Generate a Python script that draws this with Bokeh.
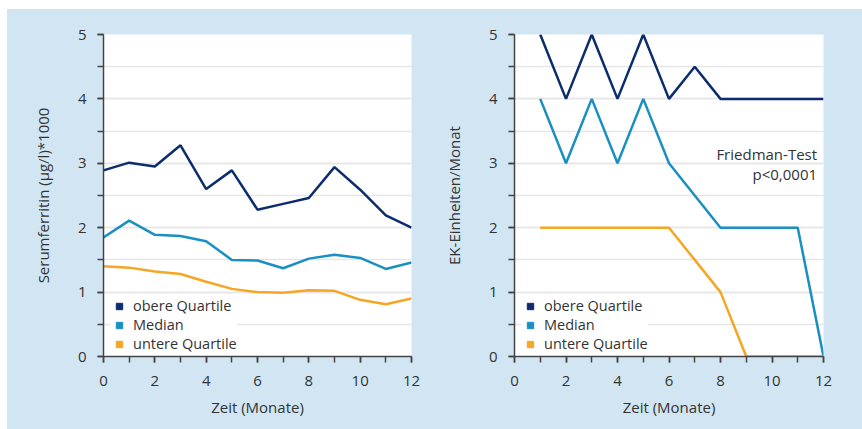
from bokeh.plotting import figure
from bokeh.models import (SingleIntervalTicker, Legend, LegendItem, Label, Row)
from bokeh.embed import file_html
from bokeh.resources import INLINE

# ---- data ----
months_left = [0, 1, 2, 3, 4, 5, 6, 7, 8, 9, 10, 11, 12]
ferritin_upper = [2.89, 3.01, 2.95, 3.28, 2.60, 2.89, 2.28, 2.37, 2.46, 2.94, 2.59, 2.19, 2.00]
ferritin_median = [1.85, 2.11, 1.89, 1.87, 1.79, 1.50, 1.49, 1.37, 1.52, 1.58, 1.53, 1.36, 1.46]
ferritin_lower = [1.40, 1.38, 1.32, 1.28, 1.16, 1.05, 1.00, 0.99, 1.03, 1.02, 0.88, 0.81, 0.90]

months_right = [1, 2, 3, 4, 5, 6, 7, 8, 9, 10, 11, 12]
ek_upper = [5, 4, 5, 4, 5, 4, 4.5, 4, 4, 4, 4, 4]
ek_median = [4, 3, 4, 3, 4, 3, 2.5, 2, 2, 2, 2, 0]
ek_lower = [2, 2, 2, 2, 2, 2, 1.5, 1, 0, 0, 0, 0]

series_labels = ["obere Quartile", "Median", "untere Quartile"]
series_colors = ["#0c2c6e", "#1a8fc2", "#f5a623"]

BG = "#d1e6f2"
TXT = "#333333"
FONT = "Open Sans"
NAN = float("nan")


def make_panel(xs, ys_list, ylabel, left_border, right_border, frame_w):
    p = figure(output_backend="svg", toolbar_location=None,
               x_range=(0, 12), y_range=(0, 5),
               frame_width=frame_w, frame_height=322,
               width=left_border + frame_w + right_border, height=420,
               min_border_left=left_border, min_border_right=right_border,
               min_border_top=25, min_border_bottom=73)
    p.border_fill_color = BG
    p.background_fill_color = "white"
    p.outline_line_color = None

    for ys, c in zip(ys_list, series_colors):
        p.line(xs, ys, line_color=c, line_width=2.5)

    p.xaxis.ticker = SingleIntervalTicker(interval=2, num_minor_ticks=2)
    p.yaxis.ticker = SingleIntervalTicker(interval=1, num_minor_ticks=2)
    for ax in (p.xaxis[0], p.yaxis[0]):
        ax.axis_line_color = "#444444"
        ax.axis_line_width = 1.5
        ax.major_tick_line_color = "#444444"
        ax.minor_tick_line_color = "#444444"
        ax.major_tick_line_width = 1.5
        ax.minor_tick_line_width = 1.5
        ax.major_tick_in = 0
        ax.major_tick_out = 6
        ax.minor_tick_in = 0
        ax.minor_tick_out = 6
        ax.major_label_text_font = FONT
        ax.major_label_text_font_size = "15px"
        ax.major_label_text_color = TXT
        ax.axis_label_text_font = FONT
        ax.axis_label_text_font_size = "15px"
        ax.axis_label_text_font_style = "normal"
        ax.axis_label_text_color = TXT
    p.xaxis.major_label_standoff = 13
    p.yaxis.major_label_standoff = 11
    p.xaxis.axis_label = "Zeit (Monate)"
    p.xaxis.axis_label_standoff = 8
    p.yaxis.axis_label = ylabel
    p.yaxis.axis_label_standoff = 22

    p.xgrid.grid_line_color = None
    p.ygrid.grid_line_color = "#e6e6e6"
    p.ygrid.grid_line_width = 1.5
    p.ygrid.minor_grid_line_color = "#e6e6e6"
    p.ygrid.minor_grid_line_width = 1.5

    items = []
    for lab, c in zip(series_labels, series_colors):
        r = p.scatter(x=[NAN], y=[NAN], marker="square", fill_color=c, line_color=c)
        items.append(LegendItem(label=lab, renderers=[r]))
    leg = Legend(items=items, location=(7, 3), margin=0, padding=3,
                 glyph_width=18, glyph_height=16, label_height=16, spacing=-4,
                 label_standoff=5, border_line_color=None,
                 background_fill_color="white", background_fill_alpha=1.0,
                 label_text_font=FONT, label_text_font_size="14.5px",
                 label_text_color=TXT)
    p.add_layout(leg, "center")
    return p


p1 = make_panel(months_left, [ferritin_upper, ferritin_median, ferritin_lower],
                "Serumferritin (µg/l)*1000", 96, 20, 308)
p2 = make_panel(months_right, [ek_upper, ek_median, ek_lower],
                "EK-Einheiten/Monat", 83, 39, 309)

p2.add_layout(Label(x=11.75, y=3.14, text="Friedman-Test", text_align="right",
                    text_baseline="middle", text_font=FONT, text_font_size="15px",
                    text_color=TXT))
p2.add_layout(Label(x=11.75, y=2.84, text="p<0,0001", text_align="right",
                    text_baseline="middle", text_font=FONT, text_font_size="15px",
                    text_color=TXT))

layout = Row(children=[p1, p2], spacing=0, margin=(9, 0, 0, 7),
             styles={"background-color": BG})
open("out.html", "w").write(file_html(layout, INLINE))
